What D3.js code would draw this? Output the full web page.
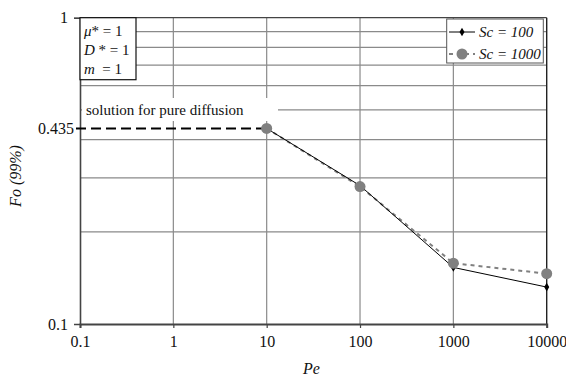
<!DOCTYPE html>
<html>
<head>
<meta charset="utf-8">
<script src="https://cdn.jsdelivr.net/npm/d3@7"></script>
<style>
  html, body { margin: 0; padding: 0; background: #fff; }
  svg { display: block; font-family: "Liberation Serif", "Times New Roman", serif; }
</style>
</head>
<body>
<svg id="chart" width="566" height="378"></svg>
<script>
// Péclet numbers and Fourier numbers at 99% completion
const pe = [10, 100, 1000, 10000];
const foSc100 = [0.435, 0.283, 0.153, 0.132];
const foSc1000 = [0.435, 0.281, 0.158, 0.146];
const pureDiffusion = 0.435;

const xTicks = [0.1, 1, 10, 100, 1000, 10000];
const xTickLabels = ["0.1", "1", "10", "100", "1000", "10000"];
const yGrid = [0.2, 0.3, 0.4, 0.5, 0.6, 0.7, 0.8, 0.9];
const yTicks = [0.1, 1];
const yTickLabels = ["0.1", "1"];

const svg = d3.select("#chart");
const L = 80, R = 546.7, T = 17.7, B = 324;
const serif = "Liberation Serif, Times New Roman, serif";

const x = d3.scaleLog().domain([0.1, 10000]).range([L, R]);
const y = d3.scaleLog().domain([0.1, 1]).range([B, T]);

const gridColor = "#8a8a8a";
const axisColor = "#444";

// horizontal grid
svg.append("g").selectAll("line").data(yGrid).join("line")
  .attr("x1", L).attr("x2", R)
  .attr("y1", d => y(d)).attr("y2", d => y(d))
  .attr("stroke", gridColor).attr("stroke-width", 1.2);

// vertical grid
svg.append("g").selectAll("line").data(xTicks.slice(1, -1)).join("line")
  .attr("x1", d => x(d)).attr("x2", d => x(d))
  .attr("y1", T).attr("y2", B)
  .attr("stroke", gridColor).attr("stroke-width", 1.2);

// frame
svg.append("line").attr("x1", L).attr("x2", R).attr("y1", T).attr("y2", T)
  .attr("stroke", axisColor).attr("stroke-width", 1.2);
svg.append("line").attr("x1", R).attr("x2", R).attr("y1", T).attr("y2", B)
  .attr("stroke", "#222").attr("stroke-width", 1.4);

// x axis
const xAxis = d3.axisBottom(x).tickValues(xTicks)
  .tickFormat((d, i) => xTickLabels[i]).tickSize(4).tickPadding(8);
const gx = svg.append("g").attr("transform", `translate(0,${B})`).call(xAxis);
gx.attr("font-family", serif);
gx.select(".domain").attr("stroke", axisColor).attr("stroke-width", 2);
gx.selectAll(".tick line").attr("stroke", axisColor).attr("stroke-width", 1.2);
gx.selectAll(".tick text").attr("font-size", 16).attr("fill", "#111");

// y axis
const yAxis = d3.axisLeft(y).tickValues(yTicks)
  .tickFormat((d, i) => yTickLabels[i]).tickSize(6).tickPadding(6);
const gy = svg.append("g").attr("transform", `translate(${L},0)`).call(yAxis);
gy.attr("font-family", serif);
gy.select(".domain").attr("stroke", axisColor).attr("stroke-width", 1.6);
gy.selectAll(".tick line").attr("stroke", axisColor).attr("stroke-width", 1);
gy.selectAll(".tick text").attr("font-size", 16).attr("fill", "#111");

// 0.435 reference label
svg.append("text").attr("x", L - 6).attr("y", y(pureDiffusion)).attr("dy", "0.32em")
  .attr("text-anchor", "end").attr("font-size", 16).attr("fill", "#111")
  .text("0.435");

// pure diffusion label box
svg.append("rect").attr("x", 82).attr("y", 98).attr("width", 196).attr("height", 23)
  .attr("fill", "#fff");
svg.append("text").attr("x", 86).attr("y", 115).attr("font-size", 15).attr("fill", "#111")
  .text("solution for pure diffusion");

// pure diffusion dashed line
svg.append("line")
  .attr("x1", L - 4).attr("x2", x(pe[0]))
  .attr("y1", y(pureDiffusion)).attr("y2", y(pureDiffusion))
  .attr("stroke", "#000").attr("stroke-width", 2).attr("stroke-dasharray", "10,5");

const line = d3.line().x(d => x(d[0])).y(d => y(d[1]));
const s100 = pe.map((p, i) => [p, foSc100[i]]);
const s1000 = pe.map((p, i) => [p, foSc1000[i]]);

// Sc = 1000 dashed line
svg.append("path").datum(s1000).attr("d", line)
  .attr("fill", "none").attr("stroke", "#808080").attr("stroke-width", 2)
  .attr("stroke-dasharray", "4,4");
// Sc = 100 solid line
svg.append("path").datum(s100).attr("d", line)
  .attr("fill", "none").attr("stroke", "#000").attr("stroke-width", 1);

const diamond = d3.symbol().type(d3.symbolDiamond).size(22);
svg.append("g").selectAll("path").data(s100).join("path")
  .attr("transform", d => `translate(${x(d[0])},${y(d[1])})`)
  .attr("d", diamond).attr("fill", "#000");
svg.append("g").selectAll("circle").data(s1000).join("circle")
  .attr("cx", d => x(d[0])).attr("cy", d => y(d[1])).attr("r", 5.5)
  .attr("fill", "#808080");

// parameter box
svg.append("rect").attr("x", L).attr("y", T).attr("width", 56).attr("height", 62)
  .attr("fill", "#fff").attr("stroke", "#111").attr("stroke-width", 1.2);
const params = [
  [["μ", true], ["* = 1", false]],
  [["D", true], [" * = 1", false]],
  [["m", true], ["  = 1", false]]
];
const pBase = [36, 55, 74];
params.forEach((parts, i) => {
  const t = svg.append("text").attr("x", 84).attr("y", pBase[i])
    .attr("font-size", 15).attr("fill", "#111").attr("xml:space", "preserve");
  parts.forEach(([s, it]) => t.append("tspan")
    .attr("font-style", it ? "italic" : "normal").text(s));
});

// legend
const lg = svg.append("g");
lg.append("rect").attr("x", 446.7).attr("y", 19).attr("width", 96.6).attr("height", 44)
  .attr("fill", "#fff").attr("stroke", "#555").attr("stroke-width", 1);
lg.append("line").attr("x1", 449).attr("x2", 475).attr("y1", 32).attr("y2", 32)
  .attr("stroke", "#000").attr("stroke-width", 1);
lg.append("path").attr("transform", "translate(462,32)").attr("d", diamond).attr("fill", "#000");
lg.append("line").attr("x1", 449).attr("x2", 475).attr("y1", 54).attr("y2", 54)
  .attr("stroke", "#808080").attr("stroke-width", 2).attr("stroke-dasharray", "4,4");
lg.append("circle").attr("cx", 462).attr("cy", 54).attr("r", 5.5).attr("fill", "#808080");
lg.append("text").attr("x", 479).attr("y", 37).attr("font-size", 15)
  .attr("font-style", "italic").attr("fill", "#111").text("Sc = 100");
lg.append("text").attr("x", 479).attr("y", 59).attr("font-size", 15)
  .attr("font-style", "italic").attr("fill", "#111").text("Sc = 1000");

// axis titles
svg.append("text").attr("x", (L + R) / 2 - 2).attr("y", 374).attr("text-anchor", "middle")
  .attr("font-size", 16).attr("font-style", "italic").attr("fill", "#111").text("Pe");
svg.append("text").attr("transform", "translate(21,176) rotate(-90)")
  .attr("text-anchor", "middle").attr("font-size", 16).attr("font-style", "italic")
  .attr("fill", "#111").text("Fo (99%)");
</script>
</body>
</html>
